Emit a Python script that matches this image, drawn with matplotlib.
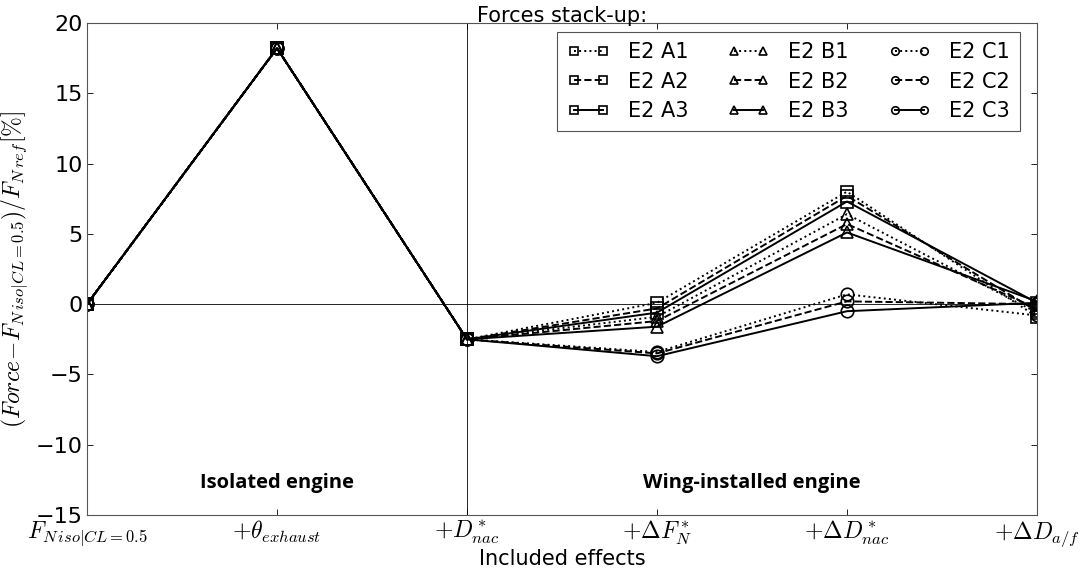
import matplotlib
matplotlib.use("Agg")
import matplotlib.pyplot as plt
import numpy as np

plt.rcParams['mathtext.fontset'] = 'cm'
plt.rcParams['font.family'] = 'DejaVu Sans'

categories = [r'$F_{N\,iso|CL=0.5}$', r'$+\theta_{exhaust}$', r'$+D^*_{nac}$',
              r'$+\Delta F^*_N$', r'$+\Delta D^*_{nac}$', r'$+\Delta D_{a/f}$']

labels = ['E2 A1', 'E2 A2', 'E2 A3', 'E2 B1', 'E2 B2', 'E2 B3', 'E2 C1', 'E2 C2', 'E2 C3']
A1 = [0, 18.2, -2.5, 0.1, 8.0, -0.9]
A2 = [0, 18.2, -2.5, -0.3, 7.7, -0.5]
A3 = [0, 18.2, -2.5, -0.6, 7.3, 0.1]
B1 = [0, 18.2, -2.5, -0.9, 6.4, -0.6]
B2 = [0, 18.2, -2.5, -1.2, 5.7, -0.3]
B3 = [0, 18.2, -2.5, -1.6, 5.1, 0.2]
C1 = [0, 18.2, -2.5, -3.4, 0.7, -0.8]
C2 = [0, 18.2, -2.5, -3.5, 0.2, 0.0]
C3 = [0, 18.2, -2.5, -3.7, -0.5, 0.1]
series = [A1, A2, A3, B1, B2, B3, C1, C2, C3]
markers = ['s', 's', 's', '^', '^', '^', 'o', 'o', 'o']
styles = [':', '--', '-'] * 3

fig = plt.figure(figsize=(10.82, 5.73), dpi=100)
ax = fig.add_axes([0.0804, 0.101, 0.878, 0.859])
x = np.arange(len(categories))
for s, lab, m, ls in zip(series, labels, markers, styles):
    ax.plot(x, s, linestyle=ls, color='black', marker=m, markersize=9,
            markerfacecolor='none', markeredgecolor='black', markeredgewidth=1.2,
            linewidth=1.4, label=lab)

ax.axhline(0, color='black', linewidth=0.6)
ax.axvline(2, color='black', linewidth=0.6)
ax.set_xlim(0, 5)
ax.set_ylim(-15, 20)
ax.set_xticks(x)
ax.set_xticklabels(categories, fontsize=17)
ax.tick_params(axis='y', labelsize=16)
ax.tick_params(direction='in', top=True, right=True, length=4, width=0.6, pad=3)
ax.set_yticks([-15, -10, -5, 0, 5, 10, 15, 20])
ax.set_xlabel('Included effects', fontsize=15, labelpad=0)
ax.set_ylabel(r'$(Force\!-\!F_{N\,iso|CL=0.5})/F_{N\,ref}[\%]$', fontsize=17, labelpad=4)
ax.set_title('Forces stack-up:', fontsize=15, pad=1)
for sp in ax.spines.values():
    sp.set_linewidth(0.8)
    sp.set_color('#555555')

ax.text(1, -12.7, 'Isolated engine', ha='center', va='center', fontsize=14.5,
        fontweight='bold', family='Open Sans')
ax.text(3.5, -12.7, 'Wing-installed engine', ha='center', va='center', fontsize=14.5,
        fontweight='bold', family='Open Sans')

leg = ax.legend(ncol=3, loc='upper right', bbox_to_anchor=(0.982, 0.982), fontsize=15,
                numpoints=2, markerscale=0.6, handlelength=2.0, columnspacing=1.9,
                handletextpad=0.9, labelspacing=0.45, fancybox=False, framealpha=1,
                edgecolor='#555555', borderpad=0.5, borderaxespad=0)
leg.get_frame().set_linewidth(0.8)

fig.savefig('out.png', dpi=100)
